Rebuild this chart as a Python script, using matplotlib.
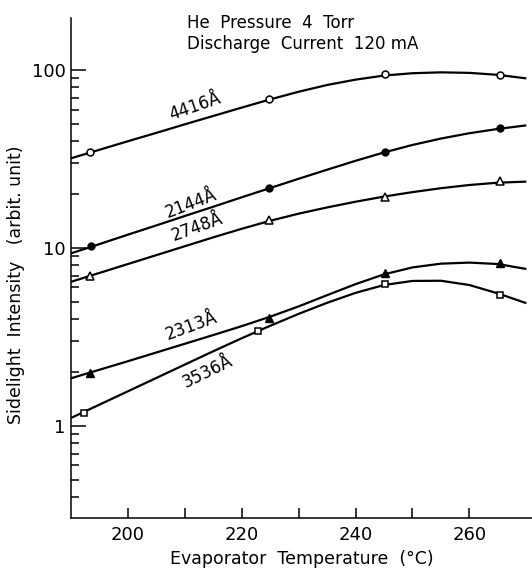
import matplotlib.pyplot as plt
import numpy as np
from matplotlib.ticker import FixedLocator, NullFormatter

# measured points (temperature in C, intensity in arbit. unit)
t_4416 = [193.3, 224.7, 245.1, 265.4]
v_4416 = [34.5, 68.5, 94.6, 93.4]
t_2144 = [193.5, 224.7, 245.1, 265.4]
v_2144 = [10.2, 21.6, 34.6, 47.0]
t_2748 = [193.3, 224.7, 245.1, 265.4]
v_2748 = [7.0, 14.4, 19.4, 23.8]
t_2313 = [193.3, 224.7, 245.1, 265.4]
v_2313 = [1.99, 4.03, 7.21, 8.2]
t_3536 = [192.3, 222.8, 245.1, 265.4]
v_3536 = [1.19, 3.42, 6.28, 5.44]

# hand-drawn curves (log10 of intensity, every 5 C)
t_curve = [190, 195, 200, 205, 210, 215, 220, 225, 230,
           235, 240, 245, 250, 255, 260, 265, 270]
lc_4416 = [1.504, 1.552, 1.600, 1.647, 1.695, 1.742, 1.789, 1.835, 1.878,
           1.916, 1.946, 1.969, 1.982, 1.987, 1.984, 1.973, 1.953]
lc_2144 = [0.970, 1.022, 1.075, 1.127, 1.180, 1.232, 1.285, 1.337, 1.389,
           1.440, 1.490, 1.537, 1.579, 1.615, 1.645, 1.669, 1.689]
lc_2748 = [0.810, 0.860, 0.910, 0.960, 1.010, 1.060, 1.108, 1.153, 1.193,
           1.228, 1.260, 1.289, 1.314, 1.336, 1.354, 1.367, 1.373]
lc_2313 = [0.268, 0.316, 0.364, 0.413, 0.462, 0.511, 0.561, 0.614, 0.672,
           0.735, 0.797, 0.852, 0.891, 0.912, 0.918, 0.910, 0.882]
lc_3536 = [0.045, 0.120, 0.195, 0.270, 0.345, 0.420, 0.493, 0.563, 0.630,
           0.692, 0.748, 0.792, 0.815, 0.816, 0.792, 0.745, 0.690]

fig = plt.figure(figsize=(5.32, 5.70), dpi=100)
ax = fig.add_axes([0.1335, 0.0912, 0.8665, 0.8772])

for lc in [lc_4416, lc_2144, lc_2748, lc_2313, lc_3536]:
    ax.plot(t_curve, 10 ** np.array(lc), 'k-', lw=1.6, solid_capstyle='butt',
            solid_joinstyle='round')

ms = 5
ax.plot(t_4416, v_4416, 'o', mfc='white', mec='k', mew=1.1, ms=ms)
ax.plot(t_2144, v_2144, 'o', mfc='k', mec='k', ms=ms)
ax.plot(t_2748, v_2748, '^', mfc='white', mec='k', mew=1.1, ms=ms + 1)
ax.plot(t_2313, v_2313, '^', mfc='k', mec='k', ms=ms + 1)
ax.plot(t_3536, v_3536, 's', mfc='white', mec='k', mew=1.1, ms=ms)

ax.set_yscale('log')
ax.set_xlim(190, 271)
ax.set_ylim(0.304, 196)

ax.spines['top'].set_visible(False)
ax.spines['right'].set_visible(False)
ax.spines['left'].set_linewidth(1.1)
ax.spines['bottom'].set_linewidth(1.1)

ax.xaxis.set_major_locator(FixedLocator([200, 220, 240, 260]))
ax.xaxis.set_minor_locator(FixedLocator([210, 230, 250]))
ax.yaxis.set_major_locator(FixedLocator([1, 10, 100]))
ax.yaxis.set_minor_locator(FixedLocator(
    [0.4, 0.5, 0.6, 0.7, 0.8, 0.9]
    + [2, 3, 4, 5, 6, 7, 8, 9]
    + [20, 30, 40, 50, 60, 70, 80, 90]))
ax.set_yticklabels(['1', '10', '100'])
ax.yaxis.set_minor_formatter(NullFormatter())

ax.tick_params(axis='x', which='both', direction='in', length=7, width=1.1,
               labelsize=13, pad=6)
ax.tick_params(axis='y', which='major', direction='in', length=10.5, width=1.1,
               labelsize=13, pad=4)
ax.tick_params(axis='y', which='minor', direction='in', length=5.5, width=1.1)

ax.set_xlabel('Evaporator  Temperature  (°C)', fontsize=12.5, labelpad=4)
ax.set_ylabel('Sidelight  Intensity   (arbit. unit)', fontsize=12.5)
ax.yaxis.set_label_coords(-0.10, 0.466)

fig.text(0.352, 0.96, 'He  Pressure  4  Torr', fontsize=12, va='center')
fig.text(0.352, 0.923, 'Discharge  Current  120 mA', fontsize=12, va='center')

def lbl(px, py, s, rot):
    ax.text(px / 532, 1 - py / 570, s, transform=fig.transFigure,
            fontsize=12, rotation=rot, ha='center', va='center')

lbl(195, 107, '4416Å', 19)
lbl(191, 204, '2144Å', 21)
lbl(197, 227, '2748Å', 20)
lbl(191, 326, '2313Å', 20)
lbl(208, 372, '3536Å', 26)

plt.savefig('out.png', dpi=100)
